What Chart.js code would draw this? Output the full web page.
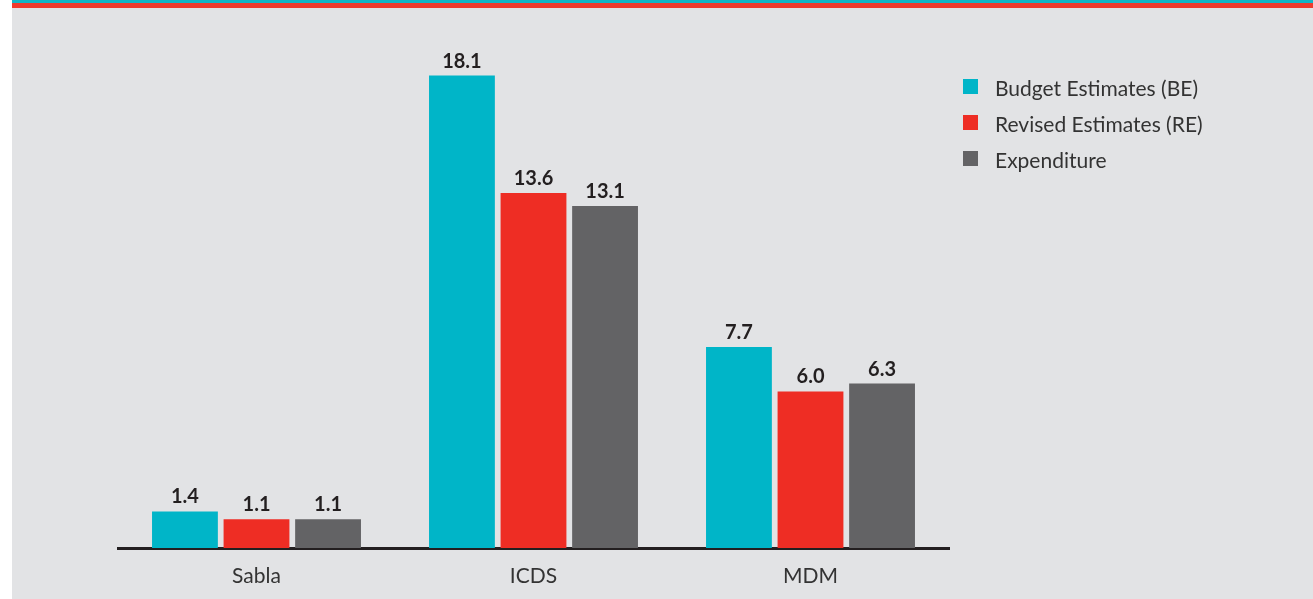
<!DOCTYPE html>
<html>
<head>
<meta charset="utf-8">
<script src="https://cdn.jsdelivr.net/npm/chart.js@4.4.1/dist/chart.umd.min.js"></script>
<style>
  html, body { margin: 0; padding: 0; background: #ffffff; width: 1313px; height: 599px; overflow: hidden; }
  #frame { position: absolute; left: 12px; top: 0; width: 1301px; height: 599px; background: #e2e3e5; }
  #bandTop { position: absolute; left: 0; top: 0; width: 100%; height: 3px; background: #12b5c6; }
  #bandRed { position: absolute; left: 0; top: 3px; width: 100%; height: 5px; background: #ef3a2d; }
  #wrap { position: absolute; left: 0; top: 8px; width: 1301px; height: 591px; }
  #legend { position: absolute; left: 951px; top: 75px; font-family: Lato, "Open Sans", sans-serif; font-size: 21px; color: #333; }
  .item { height: 36px; display: flex; align-items: flex-start; }
  .sw { width: 15px; height: 15px; margin-top: 4px; margin-right: 17px; }
</style>
</head>
<body>
<div id="frame">
  <div id="bandTop"></div>
  <div id="bandRed"></div>
  <div id="wrap"><canvas id="budgetChart" width="1301" height="591"></canvas></div>
  <div id="legend"></div>
</div>
<script>
// Categories and series (Rs. thousand crore)
const categories = ['Sabla', 'ICDS', 'MDM'];
const seriesNames = ['Budget Estimates (BE)', 'Revised Estimates (RE)', 'Expenditure'];
const budgetEstimates = [1.4, 18.1, 7.7];
const revisedEstimates = [1.1, 13.6, 6.0];
const expenditure = [1.1, 13.1, 6.3];
const seriesColors = ['#00b5c8', '#ee2d24', '#636365'];

const FONT = 'Lato, "Open Sans", sans-serif';

// Value labels above each bar
const valueLabels = {
    id: 'valueLabels',
    afterDatasetsDraw(chart) {
        const ctx = chart.ctx;
        ctx.save();
        ctx.font = 'bold 20px ' + FONT;
        ctx.fillStyle = '#231f20';
        ctx.textAlign = 'center';
        ctx.textBaseline = 'alphabetic';
        chart.data.datasets.forEach((ds, i) => {
            chart.getDatasetMeta(i).data.forEach((bar, j) => {
                ctx.fillText(ds.data[j].toFixed(1), bar.x, bar.y - 8);
            });
        });
        ctx.restore();
    }
};

const config = {
    type: 'bar',
    data: {
        labels: categories,
        datasets: [
            { label: seriesNames[0], data: budgetEstimates, backgroundColor: seriesColors[0] },
            { label: seriesNames[1], data: revisedEstimates, backgroundColor: seriesColors[1] },
            { label: seriesNames[2], data: expenditure, backgroundColor: seriesColors[2] }
        ]
    },
    options: {
        responsive: false,
        animation: false,
        categoryPercentage: 0.775,
        barPercentage: 0.92,
        layout: { padding: { left: 106, right: 364, top: 18, bottom: 0 } },
        plugins: { legend: { display: false }, tooltip: { enabled: false } },
        scales: {
            y: { display: false, min: 0, max: 20 },
            x: {
                grid: { display: false },
                border: { display: true, color: '#231f20', width: 3 },
                ticks: { color: '#333', font: { family: FONT, size: 21 }, padding: 8 },
                afterFit(scale) { scale.height = 51; }
            }
        }
    },
    plugins: [valueLabels]
};

new Chart(document.getElementById('budgetChart').getContext('2d'), config);

// HTML legend
const legend = document.getElementById('legend');
seriesNames.forEach((name, i) => {
    const row = document.createElement('div');
    row.className = 'item';
    row.innerHTML = '<span class="sw" style="background:' + seriesColors[i] + '"></span><span>' + name + '</span>';
    legend.appendChild(row);
});
</script>
</body>
</html>
